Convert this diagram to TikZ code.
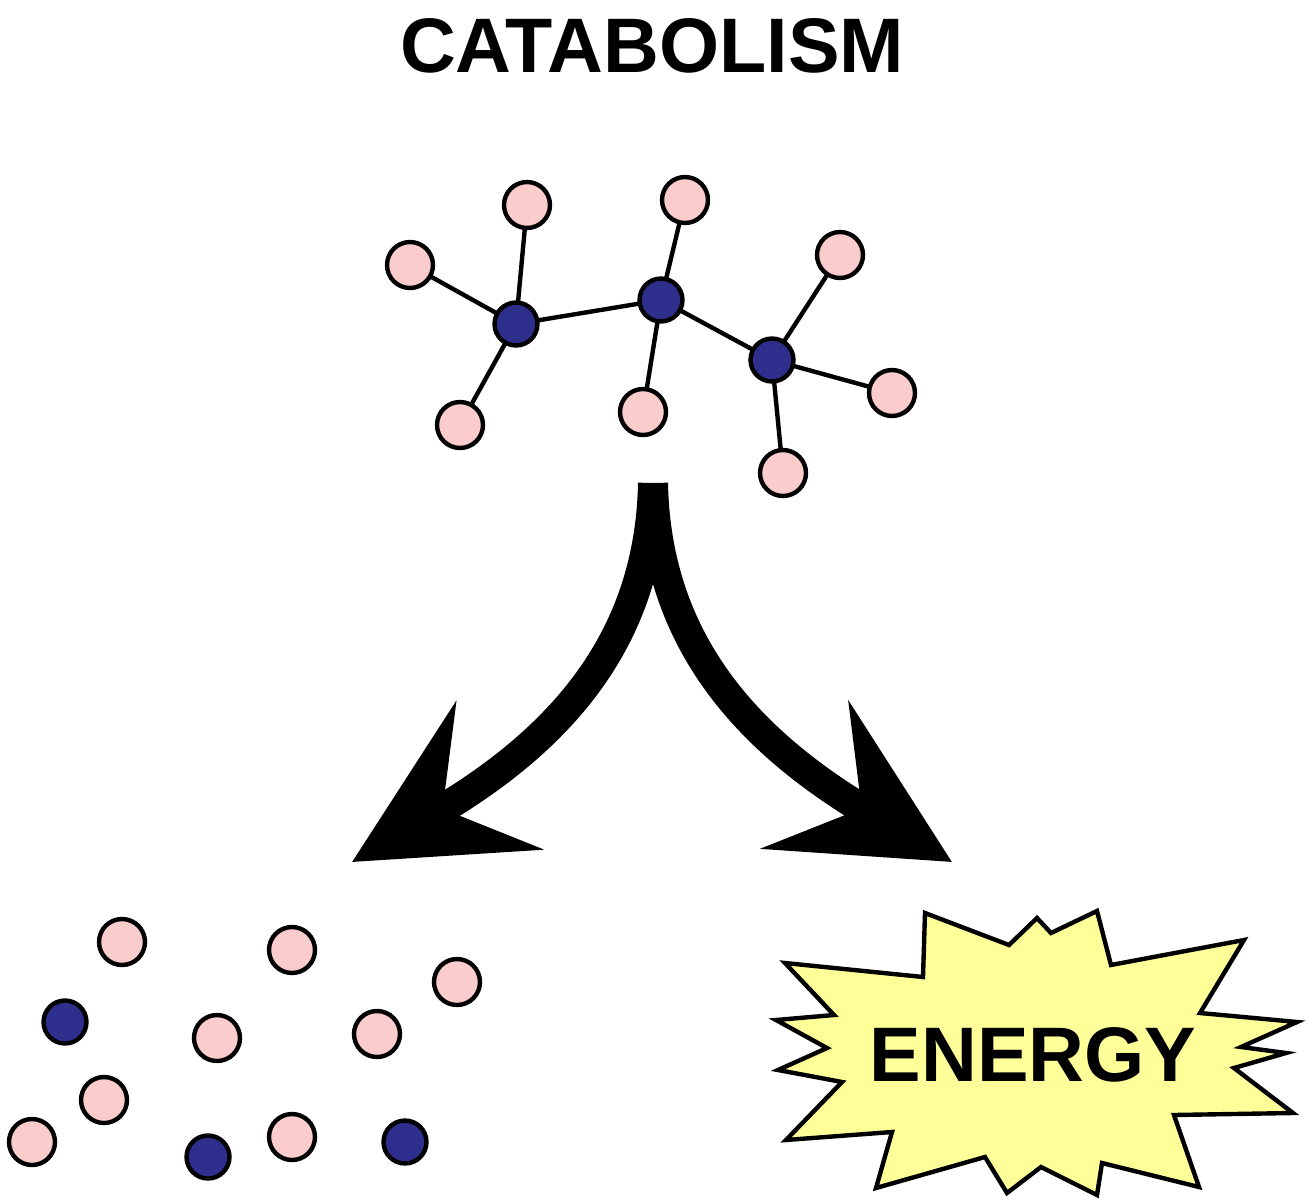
\documentclass[tikz,border=0pt]{standalone}
\usepackage{fontspec}
\setmainfont{Liberation Sans}
\usetikzlibrary{arrows.meta}
\definecolor{hpink}{RGB}{250,204,204}
\definecolor{cblue}{RGB}{46,46,140}
\definecolor{boom}{RGB}{255,255,153}
\tikzset{
  hatom/.style={circle,draw=black,line width=2.5pt,fill=hpink,minimum size=0.92cm,inner sep=0pt},
  catom/.style={circle,draw=black,line width=2.5pt,fill=cblue,minimum size=0.86cm,inner sep=0pt},
  bond/.style={line width=2.5pt},
  split/.style={line width=0.6cm,line cap=butt,-{Stealth[length=3.4cm,width=3.4cm,inset=1.3cm]}}
}
\begin{document}
\begin{tikzpicture}[x=0.02cm,y=-0.02cm]
\useasboundingbox (0,0) rectangle (1308,1200);
% title
\node (title) at (652,46) {\fontsize{44}{44}\selectfont\bfseries CATABOLISM};
% molecule
\draw[bond] (516,324) coordinate (c1) -- (661,300) coordinate (c2) -- (772,360) coordinate (c3);
\foreach \n/\p/\c in {h1/{527,205}/c1, h2/{410,265}/c1, h3/{460,425}/c1,
  h4/{685,200}/c2, h5/{643,412}/c2,
  h6/{840,255}/c3, h7/{892,393}/c3, h8/{783,473}/c3}
  \draw[bond] (\c) -- (\p);
\foreach \n/\p in {h1/{527,205}, h2/{410,265}, h3/{460,425}, h4/{685,200},
  h5/{643,412}, h6/{840,255}, h7/{892,393}, h8/{783,473}}
  \node[hatom] (\n) at (\p) {};
\foreach \n in {c1,c2,c3}
  \node[catom] at (\n) {};
% arrows
\coordinate (stem) at (653,483);
\coordinate (tipL) at (352,862);
\coordinate (tipR) at (952,862);
\draw[split] (stem) .. controls (650,640) and (560,740) .. (tipL);
\draw[split] (stem) .. controls (656,640) and (746,740) .. (tipR);
% products
\foreach \p [count=\i] in {{122,942},{292,950},{457,982},{217,1038},{377,1034},
  {104,1100},{32,1142},{292,1137}}
  \node[hatom] (p\i) at (\p) {};
\foreach \p [count=\i] in {{65,1022},{208,1157},{405,1142}}
  \node[catom] (q\i) at (\p) {};
% energy burst
\draw[line width=2.5pt,line join=miter,fill=boom]
  (925,913) -- (1009,945) -- (1037,918) -- (1051,933) -- (1097,911) -- (1111,965)
  -- (1244,940) -- (1200,1013) -- (1297,1022) -- (1241,1047) -- (1286,1053)
  -- (1234,1068) -- (1293,1113) -- (1174,1115) -- (1199,1187) -- (1102,1163)
  -- (1097,1195) -- (1041,1167) -- (1007,1193) -- (985,1157) -- (876,1188)
  -- (892,1132) -- (786,1140) -- (842,1082) -- (778,1070) -- (827,1048)
  -- (776,1020) -- (834,1015) -- (785,963) -- (923,977) -- cycle;
\node (energy) at (1033,1055) {\fontsize{44}{44}\selectfont\bfseries ENERGY};
\end{tikzpicture}
\end{document}
